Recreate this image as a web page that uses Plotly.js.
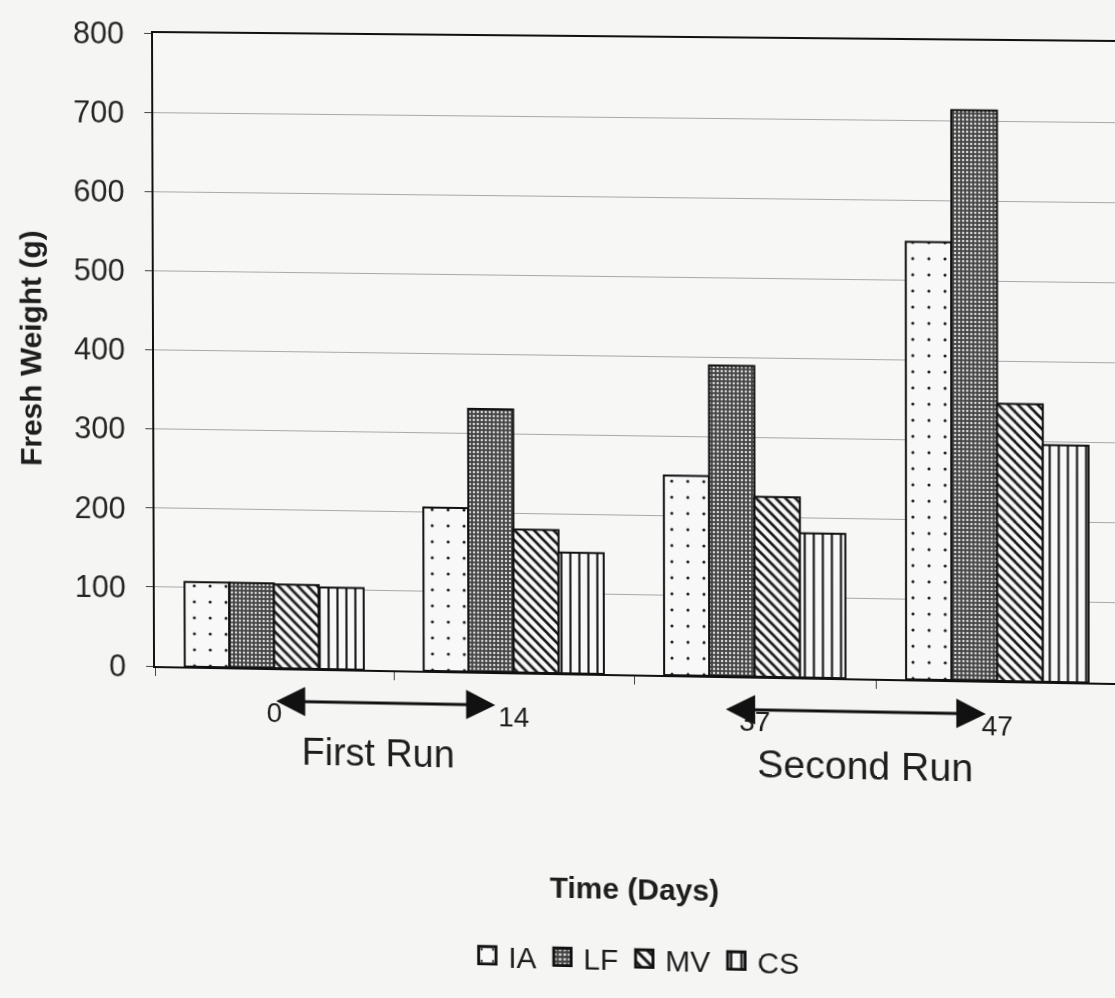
<!DOCTYPE html>
<html>
<head>
<meta charset="utf-8">
<script src="https://cdn.plot.ly/plotly-3.0.1.min.js"></script>
<style>
  html, body { margin: 0; padding: 0; width: 1115px; height: 998px; overflow: hidden; background: #f5f5f4; }
  #chart { width: 1130px; height: 998px; transform-origin: 0 0; }
</style>
</head>
<body>
<div id="chart"></div>
<script>
// ---- data ----
const days = ['0', '14', '37', '47'];
const seriesNames = ['IA', 'LF', 'MV', 'CS'];
const IA = [107, 206, 251, 548];
const LF = [107, 331, 390, 713];
const MV = [106, 180, 226, 347];
const CS = [103, 152, 181, 296];
const runLabels = ['First Run', 'Second Run'];
const yTitle = 'Fresh Weight (g)';
const xTitle = 'Time (Days)';

const FONT = 'Liberation Sans, Arial, sans-serif';
const INK = '#1e1e1e';

const patterns = [
  {shape: '.', size: 16, solidity: 0.03, fgcolor: '#222', bgcolor: '#f8f8f8', fillmode: 'replace'},
  {shape: '.', size: 4, solidity: 0.3, fgcolor: '#d8d8d8', bgcolor: '#454545', fillmode: 'replace'},
  {shape: '\\', size: 7, solidity: 0.38, fgcolor: '#1a1a1a', bgcolor: '#f8f8f8', fillmode: 'replace'},
  {shape: '|', size: 9, solidity: 0.24, fgcolor: '#1a1a1a', bgcolor: '#f8f8f8', fillmode: 'replace'}
];
const values = [IA, LF, MV, CS];

const traces = seriesNames.map((name, i) => ({
  type: 'bar',
  name: name,
  x: days,
  y: values[i],
  marker: {
    color: patterns[i].bgcolor,
    pattern: patterns[i],
    line: {color: '#111', width: 2}
  },
  hoverinfo: 'x+y+name'
}));

const arrowStyle = {
  text: '', showarrow: true, arrowside: 'end+start', arrowhead: 2, startarrowhead: 2,
  arrowsize: 1.95, startarrowsize: 1.95, arrowwidth: 3, arrowcolor: '#111',
  standoff: 0, startstandoff: 0,
  xref: 'x', yref: 'paper', axref: 'pixel', ayref: 'pixel', ay: 0
};

const layout = {
  width: 1130,
  height: 998,
  margin: {l: 155, r: 11, t: 33, b: 332},
  paper_bgcolor: '#f5f5f4',
  plot_bgcolor: '#f7f7f6',
  font: {family: FONT, color: INK},
  barmode: 'group',
  bargap: 0.25,
  bargroupgap: 0,
  showlegend: true,
  legend: {
    orientation: 'h',
    x: 0.501, xanchor: 'center',
    y: -0.447, yanchor: 'middle',
    font: {size: 30, family: FONT, color: INK},
    bgcolor: 'rgba(0,0,0,0)',
    itemwidth: 32,
    traceorder: 'normal'
  },
  xaxis: {
    type: 'category',
    categoryorder: 'array',
    categoryarray: days,
    showline: true, mirror: true, linecolor: '#111', linewidth: 2,
    ticks: 'outside', tickson: 'boundaries', ticklen: 8, tickcolor: '#444', tickwidth: 1,
    tickfont: {size: 28, family: FONT, color: INK},
    ticklabelstandoff: 18,
    showgrid: false, zeroline: false,
    title: {text: xTitle, font: {size: 30, family: FONT, color: INK, weight: 'bold'}, standoff: 144}
  },
  yaxis: {
    range: [0, 800], dtick: 100, tick0: 0,
    showline: true, mirror: true, linecolor: '#111', linewidth: 2,
    ticks: 'outside', ticklen: 7, tickcolor: '#444', tickwidth: 1,
    tickfont: {size: 31, family: FONT, color: '#262626'},
    ticklabelstandoff: 14,
    showgrid: true, gridcolor: '#a9a9a9', gridwidth: 1,
    zeroline: false,
    title: {text: yTitle, font: {size: 30, family: FONT, color: INK, weight: 'bold'}, standoff: 24}
  },
  annotations: [
    Object.assign({x: 0.923, y: -0.052, ax: -222}, arrowStyle),
    Object.assign({x: 2.953, y: -0.052, ax: -260}, arrowStyle),
    {xref: 'x', yref: 'paper', x: 0.434, y: -0.131, xanchor: 'center', yanchor: 'middle',
     text: runLabels[0], showarrow: false, font: {size: 38, family: FONT, color: INK}},
    {xref: 'x', yref: 'paper', x: 2.458, y: -0.136, xanchor: 'center', yanchor: 'middle',
     text: runLabels[1], showarrow: false, font: {size: 39, family: FONT, color: INK}}
  ]
};

// slight keystone of the scanned page: map plot corners to where they sit in the reference
function homography(src, dst) {
  const A = [], b = [];
  for (let i = 0; i < 4; i++) {
    const [x, y] = src[i], [u, v] = dst[i];
    A.push([x, y, 1, 0, 0, 0, -u * x, -u * y]); b.push(u);
    A.push([0, 0, 0, x, y, 1, -v * x, -v * y]); b.push(v);
  }
  const n = 8;
  for (let c = 0; c < n; c++) {
    let p = c;
    for (let r = c + 1; r < n; r++) if (Math.abs(A[r][c]) > Math.abs(A[p][c])) p = r;
    [A[c], A[p]] = [A[p], A[c]]; [b[c], b[p]] = [b[p], b[c]];
    for (let r = 0; r < n; r++) {
      if (r === c) continue;
      const f = A[r][c] / A[c][c];
      for (let k = c; k < n; k++) A[r][k] -= f * A[c][k];
      b[r] -= f * b[c];
    }
  }
  return b.map((v, i) => v / A[i][i]);
}
const h = homography(
  [[155, 33], [1115, 33], [155, 666], [1115, 666]],
  [[153, 33], [1115, 42], [155, 666], [1115, 683]]
);
document.getElementById('chart').style.transform =
  `matrix3d(${h[0]},${h[3]},0,${h[6]},${h[1]},${h[4]},0,${h[7]},0,0,1,0,${h[2]},${h[5]},0,1)`;

Plotly.newPlot('chart', traces, layout, {displayModeBar: false}).then(gd => {
  // enlarge the legend swatches to the size of the reference's boxes (keep their own offset)
  gd.querySelectorAll('.legend .legendpoints path').forEach(p => {
    const t = p.getAttribute('transform') || '';
    p.setAttribute('transform', (t + ' scale(1.45)').trim());
  });
});
</script>
</body>
</html>
